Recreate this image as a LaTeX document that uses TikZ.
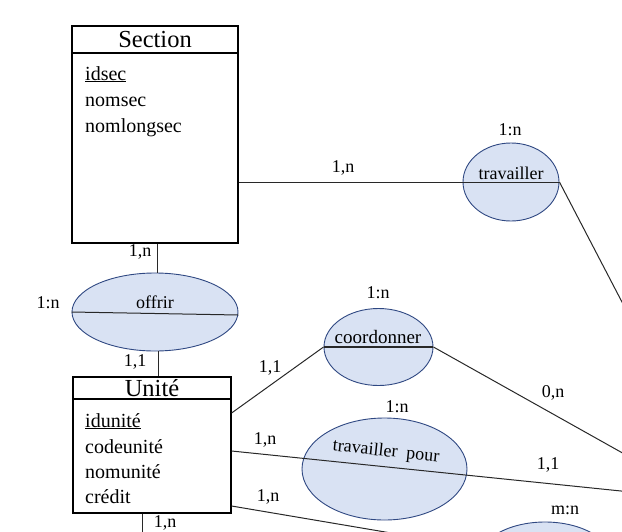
\documentclass[tikz,border=0pt]{standalone}
\usepackage{fontspec}
\setmainfont{Liberation Serif}
\usetikzlibrary{shapes.geometric}
\definecolor{relfill}{RGB}{217,226,243}
\definecolor{reldraw}{RGB}{47,72,130}
\definecolor{linkc}{RGB}{40,40,40}
\tikzset{
  entity/.style={draw, line width=1.2pt, inner sep=0pt},
  relation/.style={ellipse, draw=reldraw, line width=0.9pt, fill=relfill, inner sep=0pt},
  link/.style={draw=linkc, line width=1pt},
  etitle/.style={font=\fontsize{24.5}{28}\selectfont, inner sep=0pt},
  attr/.style={font=\fontsize{20}{24}\selectfont, anchor=base west, inner sep=0pt},
  card/.style={font=\fontsize{18}{20}\selectfont, inner sep=0pt},
  rname/.style={font=\fontsize{18}{20}\selectfont, inner sep=0pt}
}
\begin{document}
\begin{tikzpicture}[x=1pt,y=-1pt]
\useasboundingbox (0,0) rectangle (622,531);
\clip (0,0) rectangle (622,531);

% Entities
\node[entity, minimum width=166pt, minimum height=217pt] (sec) at (155,134.5) {};
\draw[line width=2pt] (72,53) -- (238,53);
\node[etitle] (sect) at (155,40) {Section};
\node[attr] (a1) at (85,80) {\underline{idsec}};
\node[attr] (a2) at (85,106) {nomsec};
\node[attr] (a3) at (85,132) {nomlongsec};

\node[entity, minimum width=158pt, minimum height=136pt] (uni) at (152,445) {};
\draw[line width=1.6pt] (73,399) -- (231,399);
\node[etitle] (unit) at (152,388) {Unité};
\node[attr] (b1) at (85,427) {\underline{idunité}};
\node[attr] (b2) at (85,453) {codeunité};
\node[attr] (b3) at (85,478) {nomunité};
\node[attr] (b4) at (85,503) {crédit};

% Relations
\node[relation, minimum width=96pt, minimum height=78pt] (trav) at (511,182) {};
\node[relation, minimum width=166pt, minimum height=78pt] (offr) at (155,312) {};
\node[relation, minimum width=109pt, minimum height=77pt] (coor) at (378.5,347) {};
\node[relation, minimum width=165pt, minimum height=102pt] (tpour) at (384.5,469) {};
\node[relation, minimum width=136pt, minimum height=80pt] (mn) at (545,562) {};

% Free ends
\coordinate (travR) at (660,375);
\coordinate (coorR) at (660,474);
\coordinate (tpR) at (660,495);
\coordinate (low) at (400,534.5);
\coordinate (uniB) at (142,545);

% Connectors
\draw[link] (sec.east |- trav.west) -- (trav.west);
\draw[link] (trav.west) -- (trav.east);
\draw[link] (trav.east) -- (travR);
\draw[link] ([xshift=2pt]offr.north) -- ([xshift=2pt]offr.north |- sec.south);
\draw[link] (offr.west) -- ([yshift=-3pt]offr.east);
\draw[link] ([xshift=3pt]offr.south) -- ([xshift=3pt]offr.south |- uni.north);
\draw[link] ([yshift=32pt]uni.east) -- (coor.west);
\draw[link, line width=1.3pt] (coor.west) -- (coor.east);
\draw[link] (coor.east) -- (coorR);
\draw[link] ([yshift=-6pt]uni.east) -- (tpR);
\draw[link] ([yshift=-61pt]uni.east) -- (low);
\draw[link] (uniB |- uni.south) -- (uniB);

% Relation names
\node[rname] (ntrav) at (511,173) {travailler};
\node[rname] (noffr) at (155,302) {offrir};
\node[rname, font=\fontsize{19}{20}\selectfont] (ncoor) at (378,337) {coordonner};
\node[rname, rotate=-6] (ntp) at (386,452) {travailler\ \ pour};

% Cardinalities
\node[card] (c1) at (343,168) {1,n};
\node[card] (c2) at (510,130) {1:n};
\node[card] (c3) at (140,252) {1,n};
\node[card] (c4) at (48,303) {1:n};
\node[card] (c5) at (135,362) {1,1};
\node[card] (c6) at (270,368) {1,1};
\node[card] (c7) at (378,293) {1:n};
\node[card] (c8) at (553,393) {0,n};
\node[card] (c9) at (397,407) {1:n};
\node[card] (c10) at (265,440) {1,n};
\node[card] (c11) at (548,465) {1,1};
\node[card] (c12) at (268,497) {1,n};
\node[card] (c13) at (565,510) {m:n};
\node[card] (c14) at (165,523) {1,n};
\end{tikzpicture}
\end{document}
